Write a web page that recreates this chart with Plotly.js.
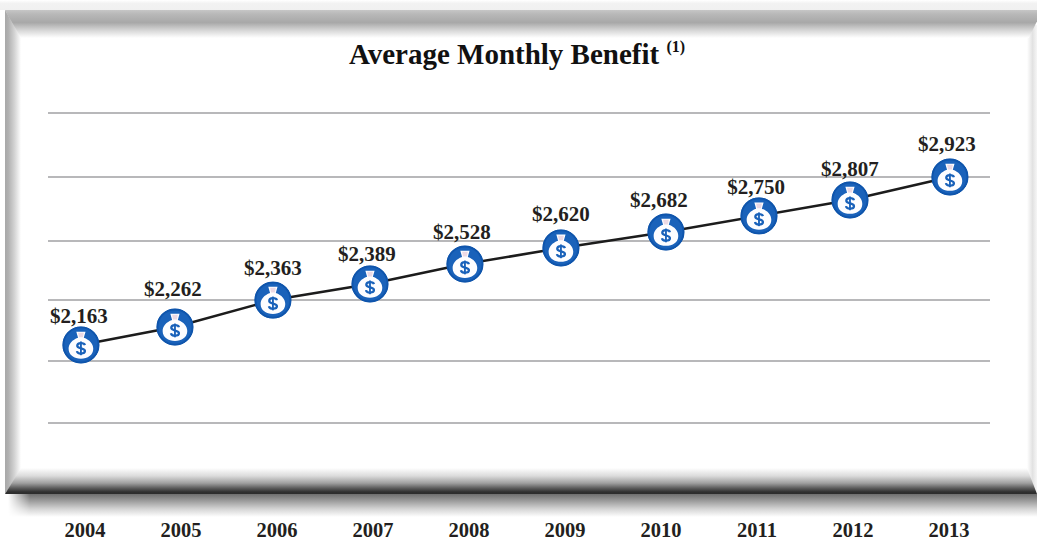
<!DOCTYPE html>
<html>
<head>
<meta charset="utf-8">
<script src="https://cdn.plot.ly/plotly-3.0.1.min.js"></script>
<style>
html,body{margin:0;padding:0;width:1037px;height:539px;overflow:hidden;background:#fff}
.f{position:absolute}
#chart{position:absolute;left:0;top:0;width:1037px;height:539px}
</style>
</head>
<body>
<div class="f" style="left:0;top:0;width:1037px;height:10px;background:linear-gradient(#fff,#f2f2f2 35%,#f0f0f0)"></div>
<div class="f" style="left:1027px;top:25px;width:10px;height:469px;background:linear-gradient(90deg,#fff,#e2e2e2 55%,#f6f6f6)"></div>
<div class="f" style="left:5px;top:10px;width:1032px;height:28px;background:linear-gradient(#c6c6c6,#b8b8b8 15%,#a8a8a8 45%,#dadada 75%,#fff);clip-path:polygon(0 0,100% 0,100% 40%,99.2% 100%,1.4% 100%)"></div>
<div class="f" style="left:5px;top:10px;width:16px;height:484px;background:linear-gradient(90deg,#a8a8a8,#b0b0b0 20%,#d4d4d4 60%,#fff);clip-path:polygon(0 0,100% 28px,100% 460px,0 100%)"></div>
<div class="f" style="left:5px;top:468px;width:1032px;height:26px;background:linear-gradient(#fff,#dcdcdc 30%,#a0a0a0 58%,#5a5a5a 78%,#303030 92%,#2c2c2c);clip-path:polygon(16px 0,calc(100% - 10px) 0,100% 100%,0 100%)"></div>
<div class="f" style="left:8px;top:494px;width:1029px;height:23px;background:linear-gradient(#6e6e6e,#9c9c9c 30%,#d4d4d4 65%,#fff);-webkit-mask-image:linear-gradient(90deg,transparent,#000 22px);mask-image:linear-gradient(90deg,transparent,#000 22px)"></div>
<div id="chart"></div>
<script>
// Labelled values as printed above each marker
var years = [2004, 2005, 2006, 2007, 2008, 2009, 2010, 2011, 2012, 2013];
var benefits = ["$2,163", "$2,262", "$2,363", "$2,389", "$2,528", "$2,620", "$2,682", "$2,750", "$2,807", "$2,923"];
// Marker locations (the drawn line is not strictly to scale)
var pointYears = [2003.958, 2004.9375, 2005.958, 2006.969, 2007.958, 2008.958, 2010.052, 2011.021, 2011.969, 2013.01];
var pointLevels = [2163, 2244, 2366, 2439, 2529, 2602, 2674, 2747, 2819, 2923];
// Label locations
var labelYears = [2003.9375, 2004.917, 2005.958, 2006.9375, 2007.927, 2008.958, 2009.979, 2010.99, 2011.969, 2012.979];
var labelLevels = [2285, 2407, 2502, 2566, 2665, 2747, 2810, 2869, 2950, 3063];
// Unlabelled gridlines
var gridLevels = [3213, 2923, 2633, 2366, 2090, 1810];

var bag = "<svg xmlns='http://www.w3.org/2000/svg' width='72' height='72' viewBox='0 0 36 36'>" +
  "<circle cx='18' cy='18' r='18' fill='#0f55ac'/>" +
  "<circle cx='18' cy='18' r='16.2' fill='#1a62ba'/>" +
  "<path d='M13.5 5 L22.5 5 L20.8 11 C26.5 13 30 17 30 21.8 C30 28 24.5 31.5 18 31.5 C11.5 31.5 6 28 6 21.8 C6 17 9.5 13 15.2 11 Z' fill='#fdfdff'/>" +
  "<path d='M15.2 6 L20.8 6 L19.9 10.6 L16.1 10.6 Z' fill='#ecd9e4'/>" +
  "<path d='M21.9 18.2 C21.5 16.8 20 16.2 18 16.2 C16 16.2 14.4 17.2 14.4 18.8 C14.4 22.2 21.9 20.6 21.9 24 C21.9 25.6 20 26.4 18 26.4 C16 26.4 14.4 25.6 14.1 24' fill='none' stroke='#1a62ba' stroke-width='2.2'/>" +
  "<rect x='17.1' y='14.6' width='1.8' height='13.4' fill='#1a62ba'/>" +
  "</svg>";
var bagUri = "data:image/svg+xml;charset=utf-8," + encodeURIComponent(bag);

var serif = "'Liberation Serif', 'Times New Roman', serif";

var traces = [
  {
    type: "scatter", mode: "lines+markers", x: pointYears, y: pointLevels,
    line: {color: "#1c1c1c", width: 2.6},
    marker: {size: 36, color: "#1a62ba", line: {color: "#0f55ac", width: 1}},
    hoverinfo: "skip", showlegend: false
  },
  {
    type: "scatter", mode: "text", x: labelYears, y: labelLevels, text: benefits,
    textposition: "middle center",
    textfont: {family: serif, size: 21, color: "#231f20", weight: 700},
    hoverinfo: "skip", showlegend: false
  }
];

var layout = {
  width: 1037, height: 539,
  margin: {l: 48, r: 47, t: 90, b: 24, pad: 0},
  paper_bgcolor: "rgba(0,0,0,0)", plot_bgcolor: "rgba(0,0,0,0)",
  showlegend: false,
  title: {
    text: "<b>Average Monthly Benefit</b> <sup><span style=\"font-size:16px\"><b>(1)</b></span></sup>",
    font: {family: serif, size: 29, color: "#111"},
    x: 517 / 1037, xref: "container", xanchor: "center",
    y: 0.9, yref: "container", yanchor: "middle"
  },
  xaxis: {
    range: [2003.615, 2013.4275], tickmode: "array", tickvals: years, ticktext: years.map(String),
    showgrid: false, zeroline: false, showline: false, ticks: "",
    tickfont: {family: serif, size: 20.5, color: "#231f20", weight: 700}
  },
  yaxis: {
    range: [1393.5, 3316.7], tickmode: "array", tickvals: gridLevels,
    showticklabels: false, showgrid: true, gridcolor: "#b8b8ba", gridwidth: 2.4,
    zeroline: false, showline: false, ticks: ""
  },
  images: pointYears.map(function (yr, i) {
    return {
      source: bagUri, xref: "x", yref: "y", x: yr, y: pointLevels[i],
      sizex: 0.385, sizey: 167, sizing: "stretch",
      xanchor: "center", yanchor: "middle", layer: "above"
    };
  })
};

Plotly.newPlot("chart", traces, layout, {displayModeBar: false, staticPlot: true});
</script>
</body>
</html>
